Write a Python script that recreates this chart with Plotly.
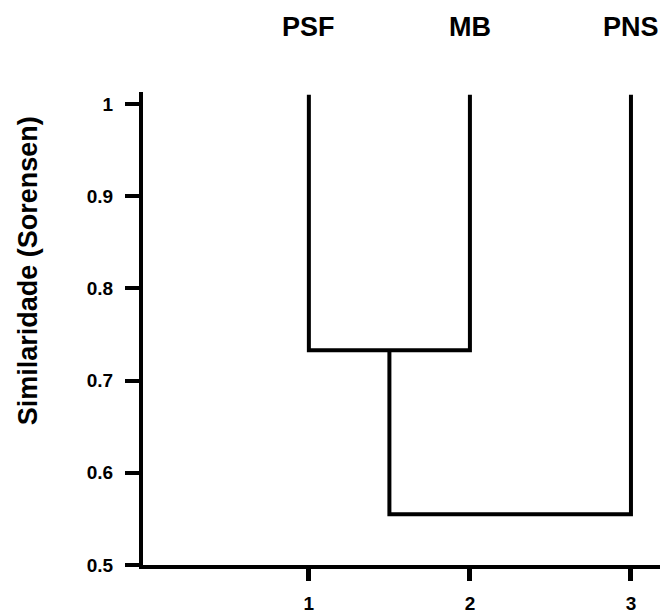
import plotly.graph_objects as go

# Data
leaf_labels = ["PSF", "MB", "PNS"]
leaf_positions = [1, 2, 3]
leaf_top = 1.01
merge_heights = [0.733, 0.555]   # PSF+MB, then (PSF,MB)+PNS
y_ticks = [0.5, 0.6, 0.7, 0.8, 0.9, 1.0]
y_ticktext = ["0.5", "0.6", "0.7", "0.8", "0.9", "1"]
x_ticks = [1, 2, 3]
x_ticktext = ["1", "2", "3"]
y_title = "Similaridade (Sorensen)"

FONT = "Liberation Sans, Arial, sans-serif"

fig = go.Figure()

x1, x2, x3 = leaf_positions
h1, h2 = merge_heights
c1 = (x1 + x2) / 2
# First cluster: PSF + MB
fig.add_trace(go.Scatter(
    x=[x1, x1, x2, x2], y=[leaf_top, h1, h1, leaf_top],
    mode="lines", line=dict(color="black", width=4), hoverinfo="skip", showlegend=False))
# Second cluster: (PSF,MB) + PNS
fig.add_trace(go.Scatter(
    x=[c1, c1, x3, x3], y=[h1, h2, h2, leaf_top],
    mode="lines", line=dict(color="black", width=4), hoverinfo="skip", showlegend=False))

# page body has an 8px default margin, so the figure is sized to fit the window
fig.update_layout(
    width=660, height=606,
    margin=dict(l=135, r=0, t=84, b=46),
    paper_bgcolor="white", plot_bgcolor="white",
    showlegend=False,
    font=dict(family=FONT, color="black"),
)

fig.update_xaxes(
    range=[-0.03, 3.23], showgrid=False, zeroline=False,
    showline=True, linecolor="black", linewidth=4,
    ticks="outside", ticklen=12, tickwidth=5, tickcolor="black",
    tickvals=x_ticks, ticktext=x_ticktext,
    tickfont=dict(size=19, weight="bold", family=FONT, color="black"),
    ticklabelstandoff=6,
)
fig.update_yaxes(
    range=[0.5, 1.013], showgrid=False, zeroline=False,
    showline=True, linecolor="black", linewidth=4,
    ticks="outside", ticklen=14, tickwidth=4, tickcolor="black",
    tickvals=y_ticks, ticktext=y_ticktext,
    tickfont=dict(size=19, weight="bold", family=FONT, color="black"),
    ticklabelstandoff=8,
)

# Leaf labels at top
for lab, xp in zip(leaf_labels, leaf_positions):
    fig.add_annotation(
        x=xp, y=1.1366, xref="x", yref="paper", text=lab, showarrow=False,
        xanchor="center", yanchor="middle",
        font=dict(size=27, weight="bold", family=FONT, color="black"))

# Y axis title
fig.add_annotation(
    x=-0.22, y=0.622, xref="paper", yref="paper", text=y_title, showarrow=False,
    textangle=-90, xanchor="center", yanchor="middle",
    font=dict(size=27, weight="bold", family=FONT, color="black"))

fig.write_html("out.html")
